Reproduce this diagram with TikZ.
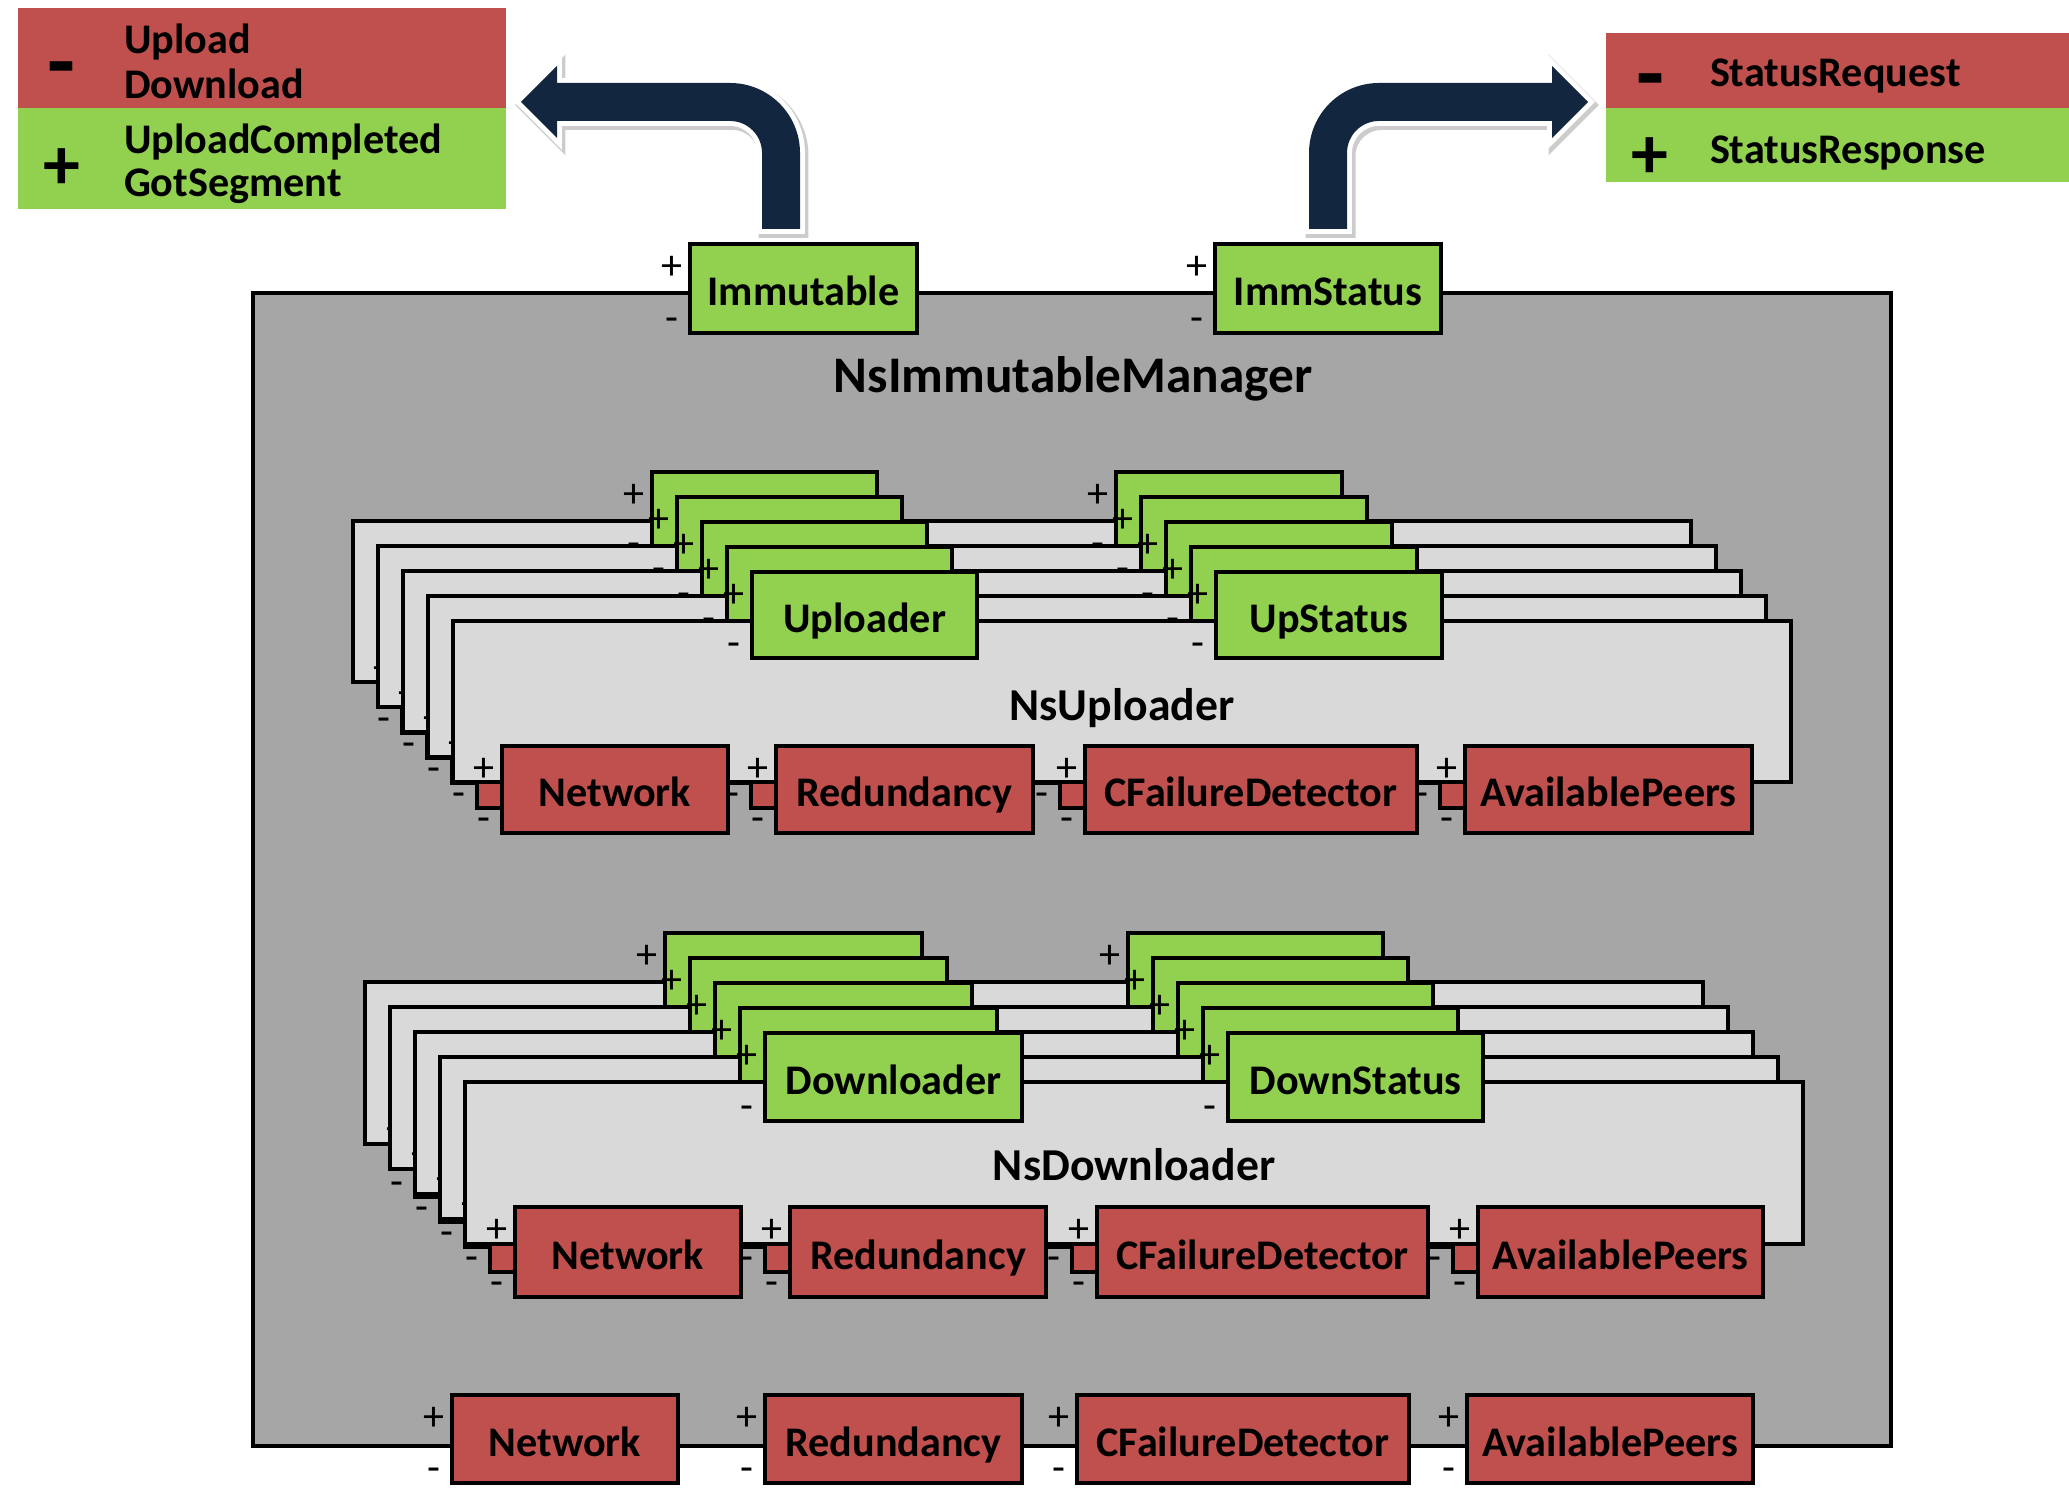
\documentclass[tikz,border=0pt]{standalone}
\usepackage{fontspec}
\setmainfont{Carlito}
\usetikzlibrary{calc}

\definecolor{portred}{HTML}{C0504D}
\definecolor{portgreen}{HTML}{92D050}
\definecolor{mgrgray}{HTML}{A6A6A6}
\definecolor{panelgray}{HTML}{D9D9D9}
\definecolor{arrownavy}{RGB}{18,38,64}

\tikzset{
  every node/.style={inner sep=0pt, outer sep=0pt},
  frame/.style={draw=black, line width=1.1pt, rectangle},
  boxfont/.style={font=\fontsize{12}{14}\selectfont\bfseries, text height=4.4mm, text depth=0.9mm},
  gport/.style={frame, fill=portgreen, boxfont},
  rport/.style={frame, fill=portred, boxfont},
  panel/.style={frame, fill=panelgray},
  mgr/.style={frame, fill=mgrgray},
  pm/.style={font=\fontsize{12}{14}\selectfont},
  legtext/.style={font=\fontsize{12}{14}\selectfont\bfseries, anchor=base west},
  legminus/.style={font=\fontsize{26}{28}\selectfont\bfseries},
  legplus/.style={font=\fontsize{21}{24}\selectfont\bfseries},
  title/.style={font=\fontsize{13}{15}\selectfont\bfseries, anchor=base},
  bigtitle/.style={font=\fontsize{14.6}{17}\selectfont\bfseries, anchor=base},
  bentarrow/.style={fill=arrownavy,
    preaction={draw=black!20, line width=3.4pt, line join=miter,
      transform canvas={xshift=0.25mm, yshift=-0.3mm}},
    preaction={draw=white, line width=2.8pt, line join=miter}},
}

% a port: box with its + and - marks at the left side
% #1 name, #2 style, #3 x, #4 y (top left), #5 width, #6 height, #7 text
\newcommand\mkport[7]{%
  \node[#2, minimum width={#5*0.1mm}, minimum height={#6*0.1mm}, anchor=north west]
    (#1) at (#3,#4) {#7};
  \node[pm] (#1-plus) at ([shift={(-18,24)}]#1.north west) {+};
  \node[pm] (#1-minus) at ([shift={(-18,-8)}]#1.south west) {-};
}

\begin{document}
\begin{tikzpicture}[x=0.1mm, y=-0.1mm]
\useasboundingbox (0,0) rectangle (2069,1501);

% ---------- legends ----------
\node[fill=portred, minimum width=48.8mm, minimum height=10mm, anchor=north west] (legL-red) at (18,8) {};
\node[fill=portgreen, minimum width=48.8mm, minimum height=10.1mm, anchor=north west] (legL-green) at (18,108) {};
\node[legminus] (legL-m) at (61,77) {-};
\node[legplus] (legL-p) at (62,169) {+};
\node[legtext] (legL-t1) at (124,54) {Upload};
\node[legtext] (legL-t2) at (124,99) {Download};
\node[legtext] (legL-t3) at (124,154) {UploadCompleted};
\node[legtext] (legL-t4) at (124,197) {GotSegment};

\node[fill=portred, minimum width=46.3mm, minimum height=7.5mm, anchor=north west] (legR-red) at (1606,33) {};
\node[fill=portgreen, minimum width=46.3mm, minimum height=7.4mm, anchor=north west] (legR-green) at (1606,108) {};
\node[legminus] (legR-m) at (1650,89) {-};
\node[legplus] (legR-p) at (1650,158) {+};
\node[legtext] (legR-t1) at (1710,87) {StatusRequest};
\node[legtext] (legR-t2) at (1710,164) {StatusResponse};

% ---------- bent block arrows ----------
\path[bentarrow] (762,229) -- (762,153) .. controls (762,135.3) and (747.7,121) .. (730,121)
  -- (557,121) -- (557,138) -- (521,102) -- (557,66) -- (557,83) -- (730,83)
  .. controls (768.7,83) and (800,114.3) .. (800,153) -- (800,229) -- cycle;
\path[bentarrow] (1347,229) -- (1347,153) .. controls (1347,135.3) and (1361.3,121) .. (1379,121)
  -- (1552,121) -- (1552,138) -- (1588,102) -- (1552,66) -- (1552,83) -- (1379,83)
  .. controls (1340.3,83) and (1309,114.3) .. (1309,153) -- (1309,229) -- cycle;

% ---------- manager ----------
\node[mgr, minimum width=163.8mm, minimum height=115.3mm, anchor=north west] (mgr) at (253,293) {};
\node[bigtitle] (mgr-title) at (1073,393) {NsImmutableManager};
\mkport{imm}{gport}{690}{244}{227}{89}{Immutable}
\mkport{immst}{gport}{1215}{244}{226}{89}{ImmStatus}

% ---------- uploader stack ----------
\foreach \i in {0,...,4}{
  \pgfmathtruncatemacro\px{453-25*(4-\i)}
  \pgfmathtruncatemacro\py{621-25*(4-\i)}
  \pgfmathtruncatemacro\gy{\py-49}
  \pgfmathtruncatemacro\ry{\py+125}
  \pgfmathtruncatemacro\xa{\px+299}
  \pgfmathtruncatemacro\xb{\px+763}
  \pgfmathtruncatemacro\xc{\px+49}
  \pgfmathtruncatemacro\xd{\px+323}
  \pgfmathtruncatemacro\xe{\px+632}
  \pgfmathtruncatemacro\xf{\px+1012}
  \node[panel, minimum width=133.8mm, minimum height=16.1mm, anchor=north west] (up\i) at (\px,\py) {};
  \mkport{up\i-upl}{gport}{\xa}{\gy}{225}{86}{\ifnum\i=4 Uploader\fi}
  \mkport{up\i-sta}{gport}{\xb}{\gy}{226}{86}{\ifnum\i=4 UpStatus\fi}
  \mkport{up\i-net}{rport}{\xc}{\ry}{226}{87}{\ifnum\i=4 Network\fi}
  \mkport{up\i-red}{rport}{\xd}{\ry}{257}{87}{\ifnum\i=4 Redundancy\fi}
  \mkport{up\i-cfd}{rport}{\xe}{\ry}{332}{87}{\ifnum\i=4 CFailureDetector\fi}
  \mkport{up\i-avp}{rport}{\xf}{\ry}{287}{87}{\ifnum\i=4 AvailablePeers\fi}
  \ifnum\i=4
    \node[title] (up-title) at (1122,721) {NsUploader};
  \fi
}

% ---------- downloader stack ----------
\foreach \i in {0,...,4}{
  \pgfmathtruncatemacro\px{465-25*(4-\i)}
  \pgfmathtruncatemacro\py{1082-25*(4-\i)}
  \pgfmathtruncatemacro\gy{\py-49}
  \pgfmathtruncatemacro\ry{\py+125}
  \pgfmathtruncatemacro\xa{\px+300}
  \pgfmathtruncatemacro\xb{\px+763}
  \pgfmathtruncatemacro\xc{\px+50}
  \pgfmathtruncatemacro\xd{\px+325}
  \pgfmathtruncatemacro\xe{\px+632}
  \pgfmathtruncatemacro\xf{\px+1013}
  \node[panel, minimum width=133.8mm, minimum height=16.2mm, anchor=north west] (dn\i) at (\px,\py) {};
  \mkport{dn\i-dnl}{gport}{\xa}{\gy}{257}{88}{\ifnum\i=4 Downloader\fi}
  \mkport{dn\i-sta}{gport}{\xb}{\gy}{255}{88}{\ifnum\i=4 DownStatus\fi}
  \mkport{dn\i-net}{rport}{\xc}{\ry}{226}{90}{\ifnum\i=4 Network\fi}
  \mkport{dn\i-red}{rport}{\xd}{\ry}{256}{90}{\ifnum\i=4 Redundancy\fi}
  \mkport{dn\i-cfd}{rport}{\xe}{\ry}{331}{90}{\ifnum\i=4 CFailureDetector\fi}
  \mkport{dn\i-avp}{rport}{\xf}{\ry}{285}{90}{\ifnum\i=4 AvailablePeers\fi}
  \ifnum\i=4
    \node[title] (dn-title) at (1134,1180) {NsDownloader};
  \fi
}

% ---------- manager's own required ports ----------
\mkport{mnet}{rport}{452}{1395}{226}{88}{Network}
\mkport{mred}{rport}{765}{1395}{257}{88}{Redundancy}
\mkport{mcfd}{rport}{1077}{1395}{332}{88}{CFailureDetector}
\mkport{mavp}{rport}{1467}{1395}{286}{88}{AvailablePeers}

\end{tikzpicture}
\end{document}
